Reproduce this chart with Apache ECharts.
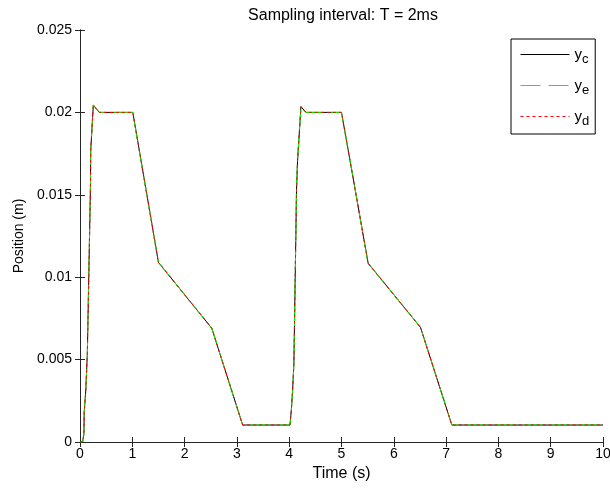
<!DOCTYPE html>
<html>
<head>
<meta charset="utf-8">
<script src="https://cdn.jsdelivr.net/npm/echarts@6/dist/echarts.min.js"></script>
<style>
html,body{margin:0;padding:0;background:#fff;overflow:hidden;}
#c{width:610px;height:491px;}
</style>
</head>
<body>
<div id="c"></div>
<script>
// Time (s)
var time = [0, 0.05, 0.075, 0.08, 0.1, 0.11, 0.13, 0.14, 0.15, 0.2, 0.205, 0.21, 0.255, 0.37, 1.01, 1.5, 2.52, 3.11,
            4.015, 4.04, 4.05, 4.065, 4.08, 4.09, 4.1, 4.14, 4.16, 4.165, 4.225, 4.32, 5.0, 5.51, 6.51, 7.11, 10];
// Position (m)
var yc = [0, 0, 0.0005, 0.0018, 0.0019, 0.0031, 0.0032, 0.0053, 0.0054, 0.0155, 0.0177, 0.0178, 0.02045, 0.02, 0.02, 0.0109, 0.0069, 0.00103,
          0.00103, 0.0019, 0.0019, 0.0031, 0.0032, 0.0048, 0.0049, 0.0153, 0.0171, 0.0172, 0.02035, 0.02, 0.02, 0.01084, 0.00696, 0.00103, 0.00103];
var ye = [0, 0, 0.0005, 0.0018, 0.0019, 0.0031, 0.0032, 0.0053, 0.0054, 0.0155, 0.0177, 0.0178, 0.02045, 0.02, 0.02, 0.0109, 0.0069, 0.00103,
          0.00103, 0.0019, 0.0019, 0.0031, 0.0032, 0.0048, 0.0049, 0.0153, 0.0171, 0.0172, 0.02035, 0.02, 0.02, 0.01084, 0.00696, 0.00103, 0.00103];
var yd = [0, 0, 0.0005, 0.0018, 0.0019, 0.0031, 0.0032, 0.0053, 0.0054, 0.0155, 0.0177, 0.0178, 0.02045, 0.02, 0.02, 0.0109, 0.0069, 0.00103,
          0.00103, 0.0019, 0.0019, 0.0031, 0.0032, 0.0048, 0.0049, 0.0153, 0.0171, 0.0172, 0.02035, 0.02, 0.02, 0.01084, 0.00696, 0.00103, 0.00103];
var seriesNames = ['y_c', 'y_e', 'y_d'];
var xTicks = [0, 1, 2, 3, 4, 5, 6, 7, 8, 9, 10];
var yTicks = [0, 0.005, 0.01, 0.015, 0.02, 0.025];

var FONT = '"Liberation Sans", Arial, sans-serif';
var DASH_E = [20, 8];
var DASH_D = [3, 3];
function pairs(ys){ return time.map(function(t,i){ return [t, ys[i]]; }); }

var axisCommon = {
  type: 'value',
  axisLine: {show: true, lineStyle: {color: '#262626', width: 1}},
  axisTick: {show: true, inside: true, length: 5, lineStyle: {color: '#262626'}},
  splitLine: {show: false}
};

var chart = echarts.init(document.getElementById('c'), null, {renderer: 'canvas'});
chart.setOption({
  animation: false,
  backgroundColor: '#fff',
  title: {
    text: 'Sampling interval: T = 2ms',
    left: 338, top: 3, textAlign: 'center',
    textStyle: {fontFamily: FONT, fontSize: 16, fontWeight: 'normal', color: '#000'}
  },
  grid: {left: 80, right: 7, top: 30, bottom: 49, containLabel: false, outerBoundsMode: 'none'},
  legend: {
    orient: 'vertical',
    left: 511, top: 39,
    padding: [4, 6, 6, 9],
    itemWidth: 49, itemHeight: 13, itemGap: 8,
    backgroundColor: '#fff',
    borderColor: '#000', borderWidth: 1, borderRadius: 0,
    itemStyle: {opacity: 0},
    lineStyle: {width: 1},
    data: [
      {name: 'y_c', lineStyle: {width: 1, type: 'solid', color: '#000000'}},
      {name: 'y_e', lineStyle: {width: 1, type: DASH_E, color: '#00ff00'}},
      {name: 'y_d', lineStyle: {width: 1, type: DASH_D, color: '#ff0000'}}
    ],
    formatter: function(name){ var p = name.split('_'); return '{a|' + p[0] + '}{b|' + p[1] + '}'; },
    textStyle: {
      fontFamily: FONT, color: '#000',
      rich: {
        a: {fontFamily: FONT, fontSize: 15, color: '#000', lineHeight: 20},
        b: {fontFamily: FONT, fontSize: 13, color: '#000', padding: [10, 0, 0, 0], lineHeight: 20}
      }
    }
  },
  xAxis: [
    Object.assign({}, axisCommon, {
      min: 0, max: 10, interval: 1, position: 'bottom',
      axisLabel: {show: true, margin: 5, fontFamily: FONT, fontSize: 14, color: '#000',
        formatter: function(v){ return xTicks.indexOf(v) >= 0 ? String(v) : ''; }},
      name: 'Time (s)', nameLocation: 'middle', nameGap: 24,
      nameTextStyle: {fontFamily: FONT, fontSize: 16, color: '#000'}
    }),
    Object.assign({}, axisCommon, {
      min: 0, max: 10, interval: 1, position: 'top',
      axisLabel: {show: false}
    })
  ],
  yAxis: [
    Object.assign({}, axisCommon, {
      min: 0, max: 0.025, interval: 0.005, position: 'left',
      axisLabel: {show: true, margin: 8, fontFamily: FONT, fontSize: 14, color: '#000',
        formatter: function(v){ var k = yTicks.findIndex(function(t){ return Math.abs(t - v) < 1e-9; }); return k >= 0 ? String(yTicks[k]) : ''; }},
      name: 'Position (m)', nameLocation: 'middle', nameGap: 54, nameRotate: 90,
      nameTextStyle: {fontFamily: FONT, fontSize: 14, color: '#000'}
    }),
    Object.assign({}, axisCommon, {
      min: 0, max: 0.025, interval: 0.005, position: 'right',
      axisLabel: {show: false}
    })
  ],
  series: [
    {name: 'y_c', type: 'line', data: pairs(yc), symbol: 'none', showSymbol: false,
     lineStyle: {color: '#000000', width: 1, type: 'solid'}, itemStyle: {color: '#000000'}, z: 2},
    {name: 'y_e', type: 'line', data: pairs(ye), symbol: 'none', showSymbol: false,
     lineStyle: {color: '#00ff00', width: 1, type: DASH_E}, itemStyle: {color: '#00ff00'}, z: 3},
    {name: 'y_d', type: 'line', data: pairs(yd), symbol: 'none', showSymbol: false,
     lineStyle: {color: '#ff0000', width: 1, type: DASH_D}, itemStyle: {color: '#ff0000'}, z: 4}
  ]
});
</script>
</body>
</html>
